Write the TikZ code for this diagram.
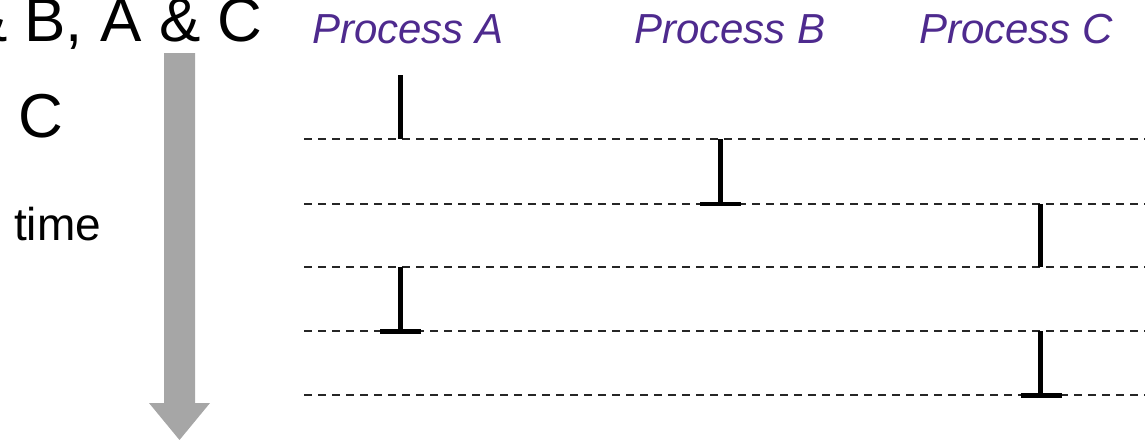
\documentclass[tikz,border=0pt]{standalone}
\usepackage{fontspec}
\setmainfont{Liberation Sans}
\definecolor{proc}{HTML}{4E2A8E}
\definecolor{arrowgray}{HTML}{A6A6A6}
\begin{document}
\begin{tikzpicture}[x=1pt,y=-1pt,
  biglbl/.style={inner sep=0pt, font=\fontsize{62}{62}\selectfont},
  timelbl/.style={inner sep=0pt, font=\fontsize{46}{46}\selectfont},
  proclbl/.style={inner sep=0pt, text=proc, font=\fontsize{42}{42}\selectfont\itshape},
  runbar/.style={line width=4.5pt, line cap=butt},
  stopfoot/.style={line width=4.5pt, line cap=butt},
  timeline/.style={dash pattern=on 8.3pt off 5.7pt, line width=1.5pt, black!85}
]
\useasboundingbox (0,0) rectangle (1145,439);

% left-hand labels (the first line runs past the left edge)
\node[biglbl, anchor=base east] (pairs) at (262.6,41) {\& B, A \& C};
\node[biglbl, anchor=base west] (lineC) at (18,137.5) {C};
\node[timelbl, anchor=base west] (time) at (14,240) {time};

% time arrow
\fill[arrowgray] (164,53) -- (195,53) -- (195,403) -- (210,403) -- (179.5,440)
  -- (149,403) -- (164,403) -- cycle;

% process headings
\node[proclbl, anchor=base west] (procA) at (312,43) {Process A};
\node[proclbl, anchor=base west] (procB) at (634,43) {Process B};
\node[proclbl, anchor=base west] (procC) at (919,43) {Process C};

% dashed time slices
\foreach \y [count=\i] in {139,204,267,331,395} {
  \coordinate (s\i w) at (304,\y);
  \coordinate (s\i e) at (1146,\y);
  \draw[timeline] (s\i w) -- (s\i e);
}

% execution bars
\coordinate (a1t) at (400.5,75);   \coordinate (a1b) at (400.5,139);
\coordinate (bt)  at (720.5,139);  \coordinate (bb)  at (720.5,204);
\coordinate (c1t) at (1040.5,204); \coordinate (c1b) at (1040.5,267);
\coordinate (a2t) at (400.5,267);  \coordinate (a2b) at (400.5,331.5);
\coordinate (c2t) at (1040.5,331); \coordinate (c2b) at (1040.5,395.5);

\draw[runbar] (a1t) -- (a1b);
\draw[runbar] (bt) -- (bb);
\draw[runbar] (c1t) -- (c1b);
\draw[runbar] (a2t) -- (a2b);
\draw[runbar] (c2t) -- (c2b);

% process-end feet
\draw[stopfoot] ([xshift=-20.5pt]bb)  -- ([xshift=20.5pt]bb);
\draw[stopfoot] ([xshift=-20.5pt]a2b) -- ([xshift=20pt]a2b);
\draw[stopfoot] ([xshift=-20pt]c2b)   -- ([xshift=21pt]c2b);
\end{tikzpicture}
\end{document}
